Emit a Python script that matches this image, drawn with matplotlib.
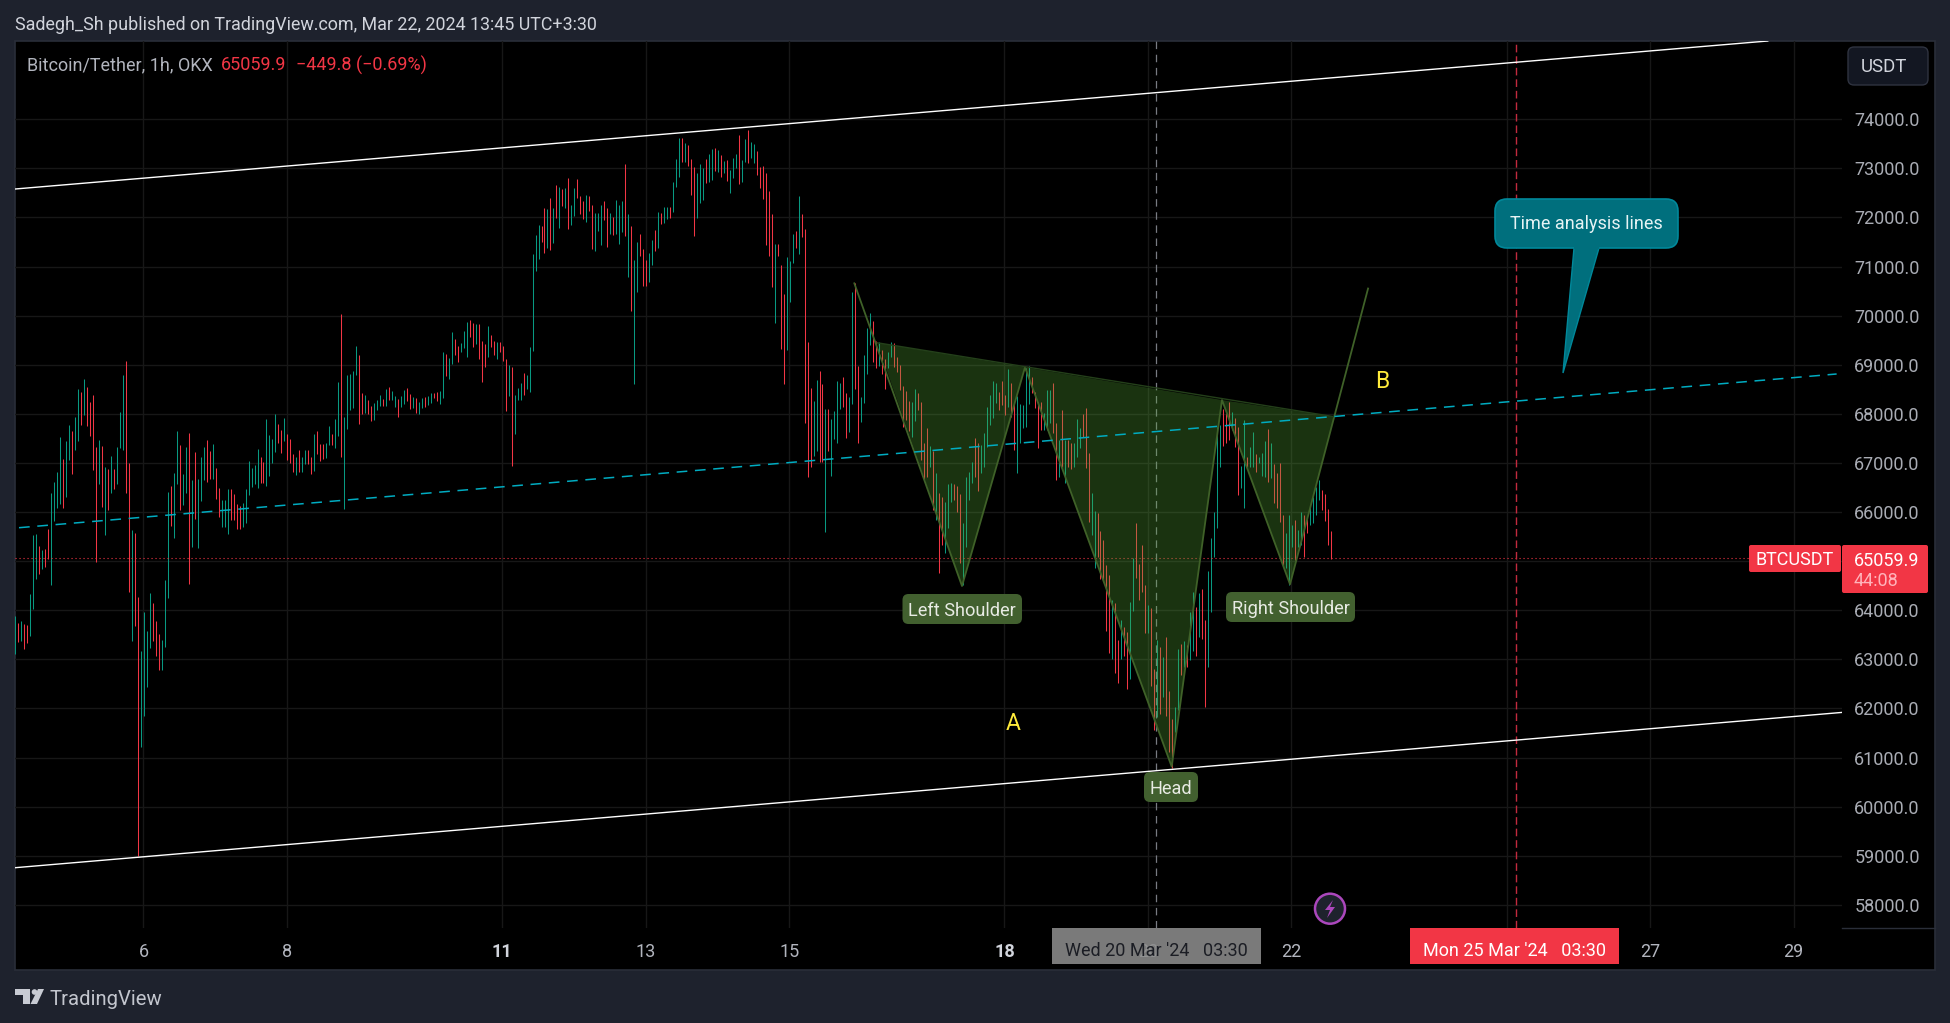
import numpy as np
import matplotlib
matplotlib.use("Agg")
import matplotlib.pyplot as plt
from matplotlib.patches import Rectangle, FancyBboxPatch, Polygon, Circle

plt.rcParams["font.family"] = ["Roboto", "DejaVu Sans"]

# hourly bars
highs = [
    63883, 63740, 63781, 63713, 63700, 64331, 65533, 65553, 65309, 65227,
    65248, 65655, 66388, 66612, 66816, 67529, 67081, 67448, 67774, 67651,
    67937, 68507, 68453, 68711, 68548, 68242, 68385, 67325, 67468, 67346,
    66918, 66877, 67142, 66877, 67325, 68038, 68792, 69077, 66999, 65635,
    65574, 64270, 63170, 63964, 63577, 64351, 64148, 63781, 63516, 63394,
    64616, 66409, 66531, 66796, 67651, 67366, 66775, 67325, 67611, 66653,
    67224, 66674, 67122, 67325, 67468, 67244, 67386, 66898, 66490, 66246,
    66246, 66470, 66470, 66368, 66164, 66123, 66185, 66470, 67040, 66898,
    66959, 67285, 67122, 67020, 67896, 67570, 67488, 67998, 67794, 67672,
    67916, 67590, 67488, 67183, 67122, 67264, 67122, 67264, 67264, 67122,
    67590, 67651, 67386, 67386, 67407, 67753, 67590, 67896, 68650, 70034,
    67937, 68792, 68812, 68874, 69383, 69199, 68425, 68385, 68283, 68161,
    68222, 68283, 68385, 68303, 68507, 68548, 68466, 68364, 68303, 68364,
    68487, 68527, 68405, 68344, 68324, 68242, 68324, 68344, 68364, 68425,
    68432, 68446, 68466, 69260, 69219, 69138, 69667, 69524, 69382, 69443,
    69687, 69871, 69911, 69850, 69830, 69830, 69484, 69423, 69789, 69606,
    69484, 69463, 69463, 69382, 69118, 68995, 68955, 68385, 68520, 68622,
    68826, 68792, 69369, 71250, 71643, 71840, 71820, 72187, 72166, 72390,
    72187, 72655, 72614, 72574, 72594, 72798, 72248, 72594, 72777, 72431,
    72336, 72451, 72431, 72248, 72085, 72085, 72248, 72329, 72187, 72085,
    72003, 72350, 72248, 72329, 73090, 72064, 71820, 71134, 71494, 71657,
    71351, 71127, 71270, 71542, 71738, 72105, 72085, 72207, 72207, 72207,
    72716, 73185, 73619, 73613, 73511, 73477, 73185, 73022, 72900, 73083,
    73001, 73185, 73287, 73388, 73409, 73368, 73273, 73144, 73164, 72961,
    73205, 73287, 73680, 73164, 73592, 73782, 73531, 73497, 73348, 73022,
    73042, 72906, 72533, 72071, 71460, 71453, 71032, 70442, 71195, 71107,
    71664, 71718, 72438, 72071, 71766, 69457, 68520, 68262, 68689, 68873,
    68601, 68092, 68099, 67895, 68058, 68670, 68629, 68751, 68425, 68344,
    70482, 70666, 68975, 68344, 69199, 69749, 70055, 69892, 69484, 69464,
    69301, 69118, 69260, 69464, 69437, 69158, 68995, 68568, 68466, 68262,
    68235, 68507, 68425, 68242, 67399, 67705, 67352, 67243, 66788, 66381,
    66299, 66197, 66564, 66584, 66564, 66530, 66367, 65769, 66707, 66822,
    67026, 67515, 67399, 67365, 67603, 68133, 68384, 68676, 68622, 68452,
    68669, 68384, 68913, 68621, 68194, 68363, 68194, 68180, 68927, 68975,
    68744, 68452, 68234, 68234, 68010, 68486, 68486, 68621, 67807, 67467,
    68078, 67467, 67467, 67399, 67399, 67895, 67705, 67997, 68112, 67196,
    66381, 66028, 65973, 65614, 65431, 64921, 64718, 64208, 64147, 63394,
    63801, 63665, 63557, 64168, 65057, 65777, 64942, 65329, 64514, 64107,
    64045, 62803, 63394, 63251, 63047, 63455, 62355, 61784, 62029, 63210,
    63312, 63373, 63292, 63964, 64371, 64066, 64351, 64432, 63801, 64799,
    65464, 66007, 67739, 67773, 68092, 68010, 68248, 68044, 67922, 67739,
    66944, 67875, 67128, 67318, 67637, 67175, 67114, 67209, 67453, 67691,
    67399, 66978, 66788, 66992, 65939, 65566, 65939, 65736, 65837, 65634,
    66007, 65939, 65871, 66143, 66313, 66516, 66652, 66449, 66367, 66062,
    65613,
]
lows = [
    63116, 63360, 63380, 63217, 63340, 63482, 64032, 64643, 64745, 64847,
    64881, 65051, 64521, 65825, 66076, 66171, 66090, 66314, 67061, 66775,
    67271, 67454, 67774, 67984, 67753, 67556, 66864, 64990, 66579, 66110,
    65540, 66042, 66388, 66477, 66579, 67305, 67264, 66395, 64379, 63380,
    63686, 59000, 61220, 61852, 62442, 63238, 63373, 63075, 62790, 62790,
    63258, 64256, 65723, 65478, 66579, 66049, 66144, 66395, 64541, 65295,
    65866, 65275, 66232, 66653, 66612, 66674, 66674, 66273, 65906, 65703,
    65703, 65560, 65838, 65838, 65662, 65662, 65696, 65784, 66354, 66511,
    66572, 66490, 66592, 66599, 66538, 66741, 67000, 67224, 67407, 67203,
    67448, 67061, 66993, 66816, 66755, 66816, 66816, 66979, 66979, 66775,
    66836, 67183, 67040, 67081, 67101, 67366, 67366, 67305, 67549, 67122,
    66062, 67692, 68079, 68120, 68792, 67794, 67998, 68018, 67998, 67855,
    67875, 68079, 68161, 68161, 68161, 68283, 68283, 68140, 67936, 68140,
    68201, 68262, 68099, 68120, 68018, 67998, 68120, 68140, 68181, 68222,
    68324, 68262, 68201, 68324, 68771, 68710, 69015, 69199, 69056, 69260,
    69341, 69158, 69565, 69361, 69423, 69117, 68649, 68954, 69158, 69361,
    69199, 69117, 69260, 69076, 68059, 68364, 66938, 67590, 68282, 68282,
    68384, 68500, 68452, 69287, 70917, 71155, 71508, 71277, 71372, 71338,
    71480, 71990, 71786, 72227, 72187, 71766, 71847, 72030, 72397, 72064,
    71963, 71908, 72126, 71351, 71324, 71718, 71440, 71942, 71399, 71657,
    71643, 71657, 71453, 71698, 71623, 70788, 70095, 68608, 70482, 71216,
    70605, 70605, 70686, 71032, 71317, 71379, 71868, 71888, 71963, 71990,
    72112, 72621, 72825, 73130, 73124, 73042, 72458, 71623, 71990, 72288,
    72363, 72696, 72723, 72764, 72940, 72920, 72818, 72900, 72743, 72499,
    72798, 73008, 72682, 72723, 73130, 73110, 73205, 73110, 72866, 72594,
    72370, 71440, 71216, 70584, 69851, 71216, 69321, 68608, 69301, 70279,
    71073, 71379, 71256, 71603, 67814, 66706, 66924, 67141, 67243, 67026,
    67026, 65600, 67244, 66741, 67488, 67406, 68099, 68140, 67508, 67630,
    68201, 68507, 67406, 67834, 68221, 68812, 69403, 69056, 68927, 68975,
    68812, 68507, 68934, 69152, 68955, 68853, 68486, 67732, 67875, 67651,
    67529, 67855, 68079, 67060, 66666, 66720, 66910, 66041, 65837, 64751,
    65328, 65158, 65668, 66211, 66245, 66007, 64955, 64514, 65294, 66245,
    66584, 66720, 66435, 66788, 66924, 67331, 67773, 67908, 68214, 68078,
    68180, 67976, 68146, 67942, 67263, 66802, 67399, 67705, 67725, 68194,
    68418, 68126, 67311, 67671, 67671, 67671, 67806, 67603, 66652, 66720,
    66924, 66584, 66924, 66876, 66924, 67114, 67297, 67535, 66890, 65804,
    65532, 64866, 65091, 64636, 64595, 63577, 63122, 63007, 62721, 62518,
    63007, 63068, 62395, 62599, 63991, 64657, 64208, 64371, 63536, 63536,
    62457, 61560, 61825, 61886, 62232, 61845, 61112, 60780, 61520, 61968,
    62681, 62850, 62844, 62986, 63170, 63068, 63448, 63414, 62029, 62844,
    63964, 65091, 65668, 66924, 67352, 67399, 67467, 67671, 67331, 66347,
    66482, 66089, 66924, 66924, 66924, 66822, 66992, 66741, 66706, 66618,
    66686, 66190, 66075, 65803, 64887, 64866, 64514, 65294, 65023, 65294,
    65328, 65091, 65566, 65736, 65770, 65939, 66245, 66041, 65824, 65328,
    65036,
]
directions = (
    "grgrrgggrg" "rrggggrggr" "ggrgrrrrgr" "grgrgggrrg" "rrggggrrrg"
    "ggrggrggrg" "rgggrrgrrg" "ggrrrrgggg" "ggrrggggrr" "grrrgrggrr"
    "grrrggrggr" "gggggrrgrr" "gggrgrggrg" "grrgrggrgg" "rrggrggrrg"
    "ggrrgrrrgr" "rgrrrgrggg" "rgggggrrgr" "grgrgrggrr" "rgrrgggrrg"
    "rgggrgrggr" "rrggrgrggr" "gggrgrrrgg" "grggrgrgrg" "ggrggrggrr"
    "rrrrgrrrgg" "grgrrrrggr" "rgrggggrrg" "grrggggrrg" "rrggrrrrrr"
    "ggrrrrgrgr" "rgggrrrggg" "grrggggggr" "rrgrrggggg" "rrrrgggrrg"
    "rgrrgggrrr" "ggrrrrrgrr" "grrggrrrrg" "rrgrgrrrgg" "rgrggrgrrg"
    "ggggrrrgrr" "ggrggrgggr" "grrrrgggrg" "grrggggrrr" "r"
)
first_bar_day = 4.2144

price_ticks = list(range(58000, 75000, 1000))
hidden_price_labels = [65000, 75000]
day_ticks = [6, 8, 11, 13, 15, 18, 20, 22, 25, 27, 29]
day_labels = ["6", "8", "11", "13", "15", "18", "20", "22", "", "27", "29"]
bold_days = ["11", "18"]

last_price = 65059.9

# drawings: (day of March, price)
upper_channel_days = [4.209, 28.64]
upper_channel_prices = [72580, 75595]
lower_channel_days = [4.209, 29.68]
lower_channel_prices = [58755, 61919]
mid_line_days = [4.265, 29.60]
mid_line_prices = [65681, 68812]
time_line_grey = 20.12
time_line_red = 25.13

pattern_days = [15.908, 17.409, 18.287, 20.332, 21.033, 21.981, 23.069]
pattern_prices = [70659, 64493, 68948, 60813, 68282, 64528, 70553]
neck_left = (16.225, 69449)
neck_right = (22.595, 67942)

BG = "#1e222d"
BORDER = "#2a2e39"
GREEN = "#089981"
RED = "#f23645"
AXIS_TEXT = "#a9acb4"
PATTERN_LINE = "#3f6128"
LABEL_BOX = "#42602f"
W, H = 1950, 1023

fig = plt.figure(figsize=(W / 100, H / 100), dpi=100, facecolor=BG)

# background panel, pixel coordinates
base = fig.add_axes([0, 0, 1, 1], zorder=0)
base.set_xlim(0, W)
base.set_ylim(H, 0)
base.axis("off")
base.add_patch(Rectangle((15, 41), 1920, 929, facecolor="black", edgecolor=BORDER, linewidth=1.2))
base.plot([1842, 1935], [927.5, 927.5], color=BORDER, linewidth=1)

ax = fig.add_axes([15 / W, (H - 928) / H, (1842 - 15) / W, (928 - 41) / H], zorder=1)
ax.set_facecolor("none")
ax.set_xlim(4.209, 29.675)
ax.set_ylim(57527, 75595)
for spine in ax.spines.values():
    spine.set_visible(False)

ax.set_xticks(day_ticks)
ax.set_xticklabels(day_labels)
ax.yaxis.tick_right()
ax.set_yticks(price_ticks)
ax.set_yticklabels(["" if p in hidden_price_labels else f"{p}.0" for p in price_ticks])
ax.tick_params(axis="x", length=0, pad=11, labelsize=13, colors="#b2b5be")
ax.tick_params(axis="y", length=0, pad=8.8, labelsize=13, colors=AXIS_TEXT)
for label in ax.get_xticklabels():
    if label.get_text() in bold_days:
        label.set_fontweight("bold")
        label.set_color("#d1d4dc")
ax.grid(True, color="#171717", linewidth=1)
ax.set_axisbelow(True)

bar_days = first_bar_day + np.arange(len(highs)) / 24
bar_colors = [GREEN if d == "g" else RED for d in directions]
bars = ax.vlines(bar_days, lows, highs, colors=bar_colors, linewidth=0.75, zorder=2)
bars.set_snap(True)

ax.axhline(last_price, color=RED, linewidth=0.8, linestyle=(0, (1, 2.6)), zorder=2.2)
ax.axvline(time_line_grey, color="#787b82", linewidth=0.9, linestyle=(0, (6, 4.5)), zorder=2.2)
ax.axvline(time_line_red, color="#c22a3e", linewidth=1.0, linestyle=(0, (5.5, 2.8)), zorder=2.2)

# head and shoulders
fill_color = "#57aa38"
left_tri = [neck_left, (pattern_days[1], pattern_prices[1]), (pattern_days[2], pattern_prices[2])]
mid_tri = [(pattern_days[2], pattern_prices[2]), (pattern_days[3], pattern_prices[3]), (pattern_days[4], pattern_prices[4])]
right_tri = [(pattern_days[4], pattern_prices[4]), (pattern_days[5], pattern_prices[5]), neck_right]
for tri in [left_tri, mid_tri, right_tri]:
    ax.add_patch(Polygon(tri, closed=True, facecolor=fill_color, edgecolor="none", alpha=0.3, zorder=3))
ax.plot(pattern_days, pattern_prices, color=PATTERN_LINE, linewidth=1.3, zorder=3.1)
ax.plot([neck_left[0], neck_right[0]], [neck_left[1], neck_right[1]], color="#24401a", linewidth=1, zorder=3.1)

ax.plot(mid_line_days, mid_line_prices, color="#00acc1", linewidth=1.1, linestyle=(0, (7, 5)), zorder=3.5)
ax.plot(upper_channel_days, upper_channel_prices, color="white", linewidth=1.0, zorder=3.6)
ax.plot(lower_channel_days, lower_channel_prices, color="white", linewidth=1.0, zorder=3.6)

# labels and chrome on top, pixel coordinates
top = fig.add_axes([0, 0, 1, 1], zorder=2)
top.set_xlim(0, W)
top.set_ylim(H, 0)
top.axis("off")
top.patch.set_alpha(0)


def round_box(x0, y0, x1, y1, face, edge="none", r=6, alpha=1.0, lw=1):
    top.add_patch(FancyBboxPatch((x0, y0), x1 - x0, y1 - y0, boxstyle=f"round,pad=0,rounding_size={r}",
                                 facecolor=face, edgecolor=edge, alpha=alpha, linewidth=lw))


top.text(15, 24.5, "Sadegh_Sh published on TradingView.com, Mar 22, 2024 13:45 UTC+3:30",
         color="#d1d4dc", fontsize=12.9, va="center")
top.text(27, 65, "Bitcoin/Tether, 1h, OKX", color="#b2b5be", fontsize=13, va="center")
top.text(220.5, 65, "65059.9", color=RED, fontsize=13, va="center")
top.text(296, 65, "\u2212449.8 (\u22120.69%)", color=RED, fontsize=13, va="center")

# pattern labels
round_box(902.5, 594, 1022, 624, LABEL_BOX)
top.text(962, 611, "Left Shoulder", color="#e8ebe4", fontsize=13.1, ha="center", va="center")
round_box(1226, 592, 1355, 622, LABEL_BOX)
top.text(1290.5, 609, "Right Shoulder", color="#e8ebe4", fontsize=13.1, ha="center", va="center")
round_box(1144, 772, 1198, 802, LABEL_BOX)
top.text(1171, 789, "Head", color="#e8ebe4", fontsize=13.1, ha="center", va="center")

top.text(1013, 724, "A", color="#ffeb3b", fontsize=16.5, ha="center", va="center")
top.text(1382, 381, "B", color="#ffeb3b", fontsize=16.5, ha="center", va="center")

# callout
callout_face = "#006f7d"
callout_edge = "#00889a"
round_box(1495, 199, 1678, 248, callout_face, callout_edge, r=12, lw=1.2)
top.add_patch(Polygon([(1574, 248), (1563, 373), (1599, 248)], closed=True, facecolor=callout_face,
                      edgecolor=callout_edge, linewidth=1))
top.plot([1575, 1598], [248, 248], color=callout_face, linewidth=1.6)
top.text(1586.5, 224, "Time analysis lines", color="#e6f3f4", fontsize=13, ha="center", va="center")

# currency button
round_box(1848, 47, 1928, 85, "#131722", "#2f3340", r=6)
top.text(1884, 67, "USDT", color="#d1d4dc", fontsize=13.4, ha="center", va="center")

# last price tags
round_box(1749, 545, 1841, 572, RED, r=2)
top.text(1795, 560, "BTCUSDT", color="white", fontsize=13, ha="center", va="center")
round_box(1842, 545, 1928, 593, RED, r=2)
top.text(1854, 560.5, "65059.9", color="white", fontsize=13, va="center")
top.text(1854, 581.5, "44:08", color="#ffb4bb", fontsize=13, va="center")

# time tags
top.add_patch(Rectangle((1052, 928), 209, 36, facecolor="#8c8c8c", alpha=0.88, edgecolor="none"))
top.text(1156.5, 951, "Wed 20 Mar '24   03:30", color="#1b1d24", fontsize=13, ha="center", va="center")
top.add_patch(Rectangle((1410, 928), 209, 36, facecolor=RED, edgecolor="none"))
top.text(1514.5, 951, "Mon 25 Mar '24   03:30", color="white", fontsize=13, ha="center", va="center")

# lightning badge
top.add_patch(Circle((1330, 908.7), 15, facecolor=BG, edgecolor="#ab47bc", linewidth=1.8))
top.add_patch(Polygon([(1333, 900), (1325, 910), (1330, 910), (1327, 918), (1335, 907), (1330, 907)],
                      closed=True, facecolor="#ab47bc", edgecolor="none"))

# logo
logo = "#c8cbd3"
top.add_patch(Polygon([(15, 989), (30, 989), (30, 1004), (23, 1004), (23, 995), (15, 995)], closed=True,
                      facecolor=logo, edgecolor="none"))
top.add_patch(Circle((34.5, 992), 2.8, facecolor=logo, edgecolor="none"))
top.add_patch(Polygon([(38, 989), (44, 989), (37, 1004), (30.5, 1004)], closed=True, facecolor=logo, edgecolor="none"))
top.text(50, 999.5, "TradingView", color="#c3c6ce", fontsize=14.6, va="center")

fig.savefig("out.png", dpi=100, facecolor=BG)
